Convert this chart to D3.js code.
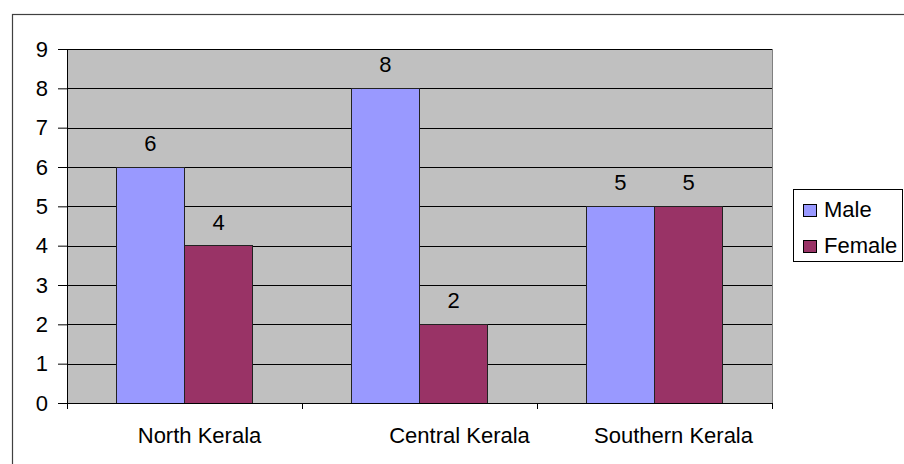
<!DOCTYPE html>
<html>
<head>
<meta charset="utf-8">
<script src="https://cdn.jsdelivr.net/npm/d3@7/dist/d3.min.js"></script>
<style>
  html, body { margin: 0; padding: 0; background: #ffffff; }
  svg { display: block; }
  text { font-family: "Liberation Sans", Arial, sans-serif; fill: #000; }
</style>
</head>
<body>
<svg id="chart" width="904" height="464"></svg>
<script>
// Regional counts by gender
const categories = ["North Kerala", "Central Kerala", "Southern Kerala"];
const maleValues = [6, 8, 5];
const femaleValues = [4, 2, 5];
const seriesNames = ["Male", "Female"];
const yTickValues = [0, 1, 2, 3, 4, 5, 6, 7, 8, 9];

const colors = { Male: "#9999FF", Female: "#993366" };
const fontSize = 22;
// horizontal nudge of each category label from its band centre
const labelNudge = [15, 40, 19];

const svg = d3.select("#chart");
const plot = { left: 67, top: 49, right: 772, bottom: 403 };

// outer chart frame (runs past the right and bottom edges)
svg.append("rect")
  .attr("x", 12.5).attr("y", 14.5)
  .attr("width", 1000).attr("height", 1000)
  .attr("fill", "none").attr("stroke", "#404040").attr("stroke-width", 1.2);

const x = d3.scaleBand().domain(categories).range([plot.left, plot.right]).padding(0);
const y = d3.scaleLinear().domain([0, 9]).range([plot.bottom, plot.top]);

const barW = x.bandwidth() * 0.29;
const sub = d3.scaleBand().domain(seriesNames)
  .range([(x.bandwidth() - 2 * barW) / 2, (x.bandwidth() + 2 * barW) / 2]);

// plot background
svg.append("rect")
  .attr("x", plot.left).attr("y", plot.top)
  .attr("width", plot.right - plot.left).attr("height", plot.bottom - plot.top)
  .attr("fill", "#C0C0C0").attr("stroke", "#808080").attr("stroke-width", 1)
  .attr("shape-rendering", "crispEdges");

// horizontal gridlines
svg.append("g").selectAll("line")
  .data(yTickValues.filter(v => v > 0))
  .join("line")
  .attr("x1", plot.left).attr("x2", plot.right)
  .attr("y1", d => Math.round(y(d)) + 0.5).attr("y2", d => Math.round(y(d)) + 0.5)
  .attr("stroke", "#000").attr("stroke-width", 1);

// bars
const rows = categories.map((c, i) => ({ cat: c, Male: maleValues[i], Female: femaleValues[i] }));
const groups = svg.append("g").selectAll("g")
  .data(rows).join("g")
  .attr("transform", d => `translate(${x(d.cat)},0)`);

groups.selectAll("rect")
  .data(d => seriesNames.map(s => ({ s, v: d[s] })))
  .join("rect")
  .attr("x", d => sub(d.s))
  .attr("y", d => y(d.v))
  .attr("width", sub.bandwidth())
  .attr("height", d => y(0) - y(d.v))
  .attr("fill", d => colors[d.s])
  .attr("stroke", "#222").attr("stroke-width", 1)
  .attr("shape-rendering", "crispEdges");

// value labels
groups.selectAll("text")
  .data(d => seriesNames.map(s => ({ s, v: d[s] })))
  .join("text")
  .attr("x", d => sub(d.s) + sub.bandwidth() / 2)
  .attr("y", d => y(d.v) - 16)
  .attr("text-anchor", "middle")
  .attr("font-size", fontSize)
  .text(d => d.v);

// y axis
const yAxis = svg.append("g")
  .attr("transform", `translate(${plot.left},0)`)
  .call(d3.axisLeft(y).tickValues(yTickValues).tickSize(9).tickPadding(10).tickFormat(d3.format("d")));
yAxis.select(".domain").attr("stroke", "#000");
yAxis.selectAll(".tick line").attr("stroke", "#000");
yAxis.selectAll(".tick text").attr("font-size", fontSize)
  .attr("font-family", "'Liberation Sans', Arial, sans-serif").attr("fill", "#000");

// x axis: baseline, boundary ticks and category labels
const xAxis = svg.append("g")
  .attr("transform", `translate(0,${plot.bottom})`)
  .call(d3.axisBottom(x).tickSize(0).tickPadding(24));
xAxis.select(".domain").attr("stroke", "#000");
xAxis.selectAll(".tick text")
  .attr("font-size", fontSize)
  .attr("font-family", "'Liberation Sans', Arial, sans-serif").attr("fill", "#000")
  .attr("dx", (d, i) => labelNudge[i]);

const boundaries = categories.map(c => x(c)).concat([x.range()[1]]);
xAxis.append("g").selectAll("line")
  .data(boundaries).join("line")
  .attr("x1", d => Math.round(d) + 0.5).attr("x2", d => Math.round(d) + 0.5)
  .attr("y1", 0).attr("y2", 6)
  .attr("stroke", "#000");

// legend
const legend = svg.append("g");
legend.append("rect")
  .attr("x", 793.5).attr("y", 189.5).attr("width", 109).attr("height", 72)
  .attr("fill", "#fff").attr("stroke", "#000").attr("stroke-width", 1);
const item = legend.selectAll("g.item")
  .data(seriesNames).join("g").attr("class", "item")
  .attr("transform", (d, i) => `translate(803,${204 + i * 36})`);
item.append("rect")
  .attr("width", 13).attr("height", 12)
  .attr("fill", d => colors[d]).attr("stroke", "#000").attr("stroke-width", 1)
  .attr("shape-rendering", "crispEdges");
item.append("text")
  .attr("x", 21).attr("y", 13)
  .attr("font-size", fontSize)
  .text(d => d);
</script>
</body>
</html>
